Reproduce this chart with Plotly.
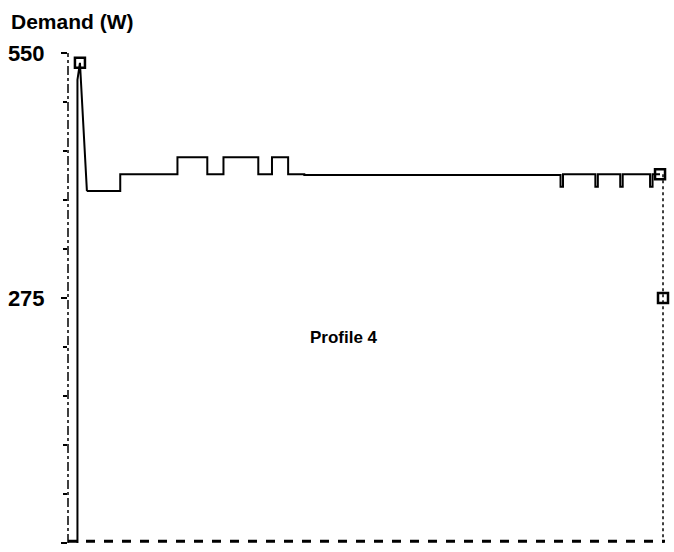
import plotly.graph_objects as go

# ---- data (time in hours, demand in W) ----
start_time = [0.38, 0.38, 0.48, 0.76]
start_demand = [0, 520, 539, 395]

step_time = [0.76, 2.1, 4.4, 5.6, 6.25, 7.65, 8.2, 8.85, 9.5, 19.8, 19.9, 21.2, 21.3, 22.2, 22.3, 23.4, 23.5, 23.8]
step_demand = [395, 414, 433, 414, 433, 414, 433, 414, 413, 400, 414, 400, 414, 400, 414, 400, 414, 414]

marker_time = [0.48, 23.8, 23.92]
marker_demand = [539, 414, 275]

right_time = [23.92, 23.92]
right_demand = [414, 0]

y_ticks = [0, 275, 550]
y_tick_labels = ["0", "275", "550"]
profile_label = "Profile 4"
profile_time = 11.1
profile_demand = 231
y_title = "Demand (W)"

# build step line from the step arrays
sx, sy = [], []
for i, (t, v) in enumerate(zip(step_time, step_demand)):
    if i > 0:
        sx.append(t)
        sy.append(step_demand[i - 1])
    sx.append(t)
    sy.append(v)

fig = go.Figure()
fig.add_trace(go.Scatter(x=start_time, y=start_demand, mode="lines",
                         line=dict(color="black", width=2), cliponaxis=False, hoverinfo="skip"))
fig.add_trace(go.Scatter(x=sx, y=sy, mode="lines",
                         line=dict(color="black", width=2), cliponaxis=False))
fig.add_trace(go.Scatter(x=right_time, y=right_demand, mode="lines",
                         line=dict(color="black", width=1.5, dash="dot"), cliponaxis=False))
fig.add_trace(go.Scatter(x=marker_time, y=marker_demand, mode="markers",
                         marker=dict(symbol="square-open", size=10, color="black", line=dict(width=2.5)),
                         cliponaxis=False))

fig.add_annotation(x=profile_time, y=profile_demand, text=f"<b>{profile_label}</b>", showarrow=False,
                   font=dict(family="Liberation Sans, Arial", size=17, color="black"))
fig.add_annotation(x=-59 / 597, y=1 + 31 / 490, xref="paper", yref="paper", xanchor="left", yanchor="middle",
                   text=f"<b>{y_title}</b>", showarrow=False,
                   font=dict(family="Liberation Sans, Arial", size=21, color="black"))

# axis lines (dotted like the scan)
fig.add_shape(type="line", xref="paper", yref="paper", x0=0, x1=0, y0=0, y1=1,
              line=dict(color="black", width=1.5, dash="dashdot"))
fig.add_shape(type="line", xref="paper", yref="y", x0=0, x1=1, y0=2, y1=2,
              line=dict(color="black", width=3, dash="dash"))

fig.update_layout(
    width=674, height=552,
    margin=dict(l=68, r=9, t=53, b=9, autoexpand=False),
    paper_bgcolor="white", plot_bgcolor="white",
    showlegend=False,
    xaxis=dict(range=[0, 24], showgrid=False, zeroline=False, showticklabels=False, ticks="", showline=False,
               automargin=False),
    yaxis=dict(range=[0, 550], showgrid=False, zeroline=False, showline=False, automargin=False,
               tickvals=y_ticks, ticktext=[f"<b>{t}</b>" for t in y_tick_labels],
               ticks="outside", ticklen=6, tickwidth=1.5, tickcolor="black",
               ticklabelstandoff=12,
               tickfont=dict(family="Liberation Sans, Arial", size=22, color="black"),
               minor=dict(dtick=55, ticks="outside", ticklen=4, tickwidth=1.5, tickcolor="black")),
)

fig.write_html("out.html")
